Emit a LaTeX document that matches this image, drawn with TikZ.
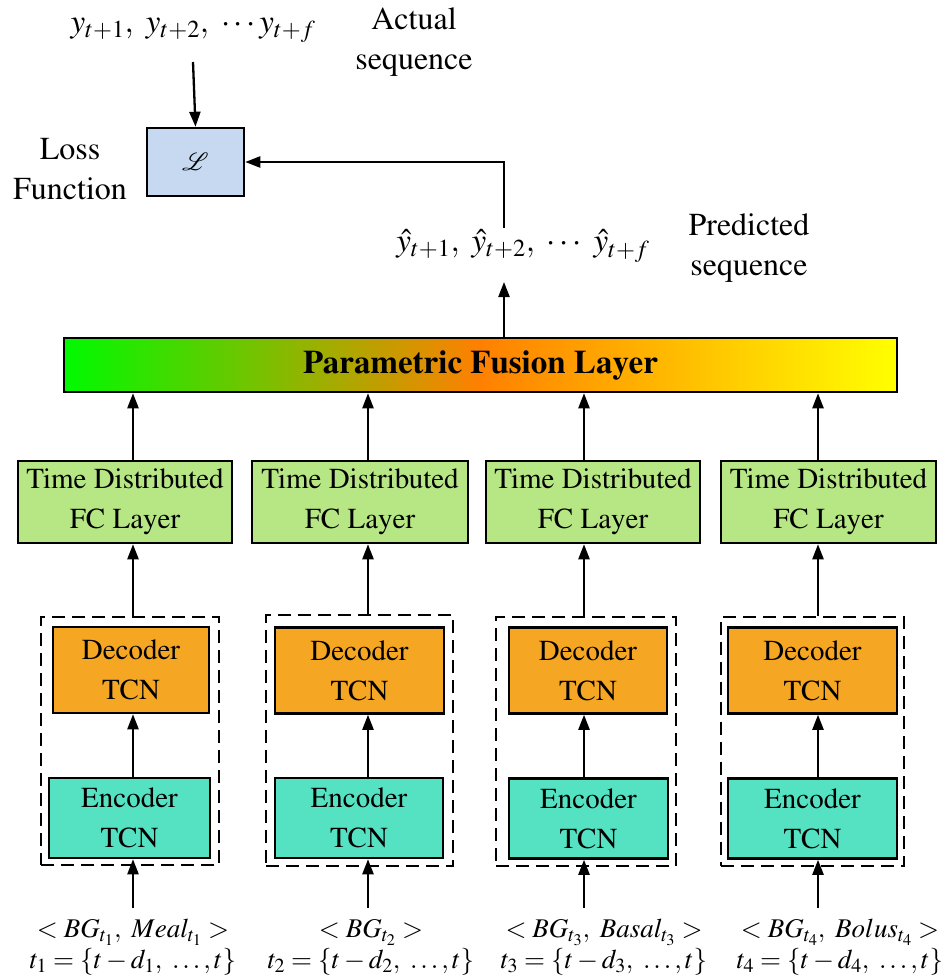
\documentclass[tikz,border=0pt]{standalone}
\usepackage[T1]{fontenc}
\usepackage{mathptmx}
\usepackage{mathrsfs}
\usetikzlibrary{arrows.meta}
\definecolor{fcgreen}{RGB}{183,230,132}
\definecolor{decorange}{RGB}{245,166,35}
\definecolor{encturq}{RGB}{84,226,194}
\definecolor{lossblue}{RGB}{198,217,240}
\definecolor{fuseg}{RGB}{0,250,0}
\definecolor{fuseo}{RGB}{255,128,0}
\definecolor{fusey}{RGB}{255,255,0}
\begin{document}
\begin{tikzpicture}[x=1pt,y=-1pt,
  box/.style={draw=black, line width=2.5pt, align=center, inner sep=0pt, font=\fontsize{29}{40}\selectfont},
  fcbox/.style={box, fill=fcgreen, minimum height=82pt},
  decbox/.style={box, fill=decorange, minimum height=86pt},
  encbox/.style={box, fill=encturq, minimum height=80pt},
  grpbox/.style={draw=black, line width=2.3pt, dash pattern=on 13pt off 7pt, inner sep=0pt},
  lossbox/.style={box, fill=lossblue, minimum width=97pt, minimum height=68pt},
  fusebox/.style={draw=black, line width=2.5pt, inner sep=0pt, left color=fuseg, right color=fusey, middle color=fuseo,
     minimum width=833pt, minimum height=54pt, font=\fontsize{33}{40}\selectfont\bfseries},
  lbl/.style={align=center, inner sep=0pt, font=\fontsize{32}{40}\selectfont},
  seq/.style={inner sep=0pt, font=\fontsize{33}{38}\selectfont},
  inlbl/.style={align=center, inner sep=0pt, anchor=south, font=\fontsize{27}{31}\selectfont},
  arr/.style={line width=2.3pt, -{Triangle[length=15pt,width=11pt]}}
]
\useasboundingbox (0,0) rectangle (947,977);

% columns
\coordinate (c1) at (133,0);
\coordinate (c2) at (368,0);
\coordinate (c3) at (584,0);
\coordinate (c4) at (818,0);

% top
\node[seq] (ytrue) at (193,30) {$y_{t+1},\ y_{t+2},\ \cdots y_{t+f}$};
\node[lbl] (actual) at (414,42) {Actual\\sequence};
\node[lossbox] (loss) at (195.5,162) {$\mathscr{L}$};
\node[lbl] (lossl) at (70,169) {Loss\\Function};
\coordinate (ytrueb) at (193,62);
\draw[arr] (ytrueb) -- (loss.north);

\node[seq] (pred) at (523,246) {$\hat{y}_{t+1},\ \hat{y}_{t+2},\ \cdots\ \hat{y}_{t+f}$};
\node[lbl] (predl) at (749,248) {Predicted\\sequence};
\coordinate (ptop) at (504,228);
\coordinate (pbot) at (504,282);

% fusion
\node[fusebox] (fus) at (480.5,365) {Parametric Fusion Layer};
\draw[arr] (fus.north -| ptop) -- (pbot);
\draw[arr] (ptop) |- (loss.east);

% FC layers
\node[fcbox, minimum width=214pt] (fc1) at (125,502) {Time Distributed\\FC Layer};
\node[fcbox, minimum width=216pt] (fc2) at (360,502) {Time Distributed\\FC Layer};
\node[fcbox, minimum width=214pt] (fc3) at (593,502) {Time Distributed\\FC Layer};
\node[fcbox, minimum width=215pt] (fc4) at (828.5,502) {Time Distributed\\FC Layer};

% groups
\node[grpbox, minimum width=178pt, minimum height=248pt] (g1) at (130,741) {};
\node[grpbox, minimum width=187pt, minimum height=251pt] (g2) at (359.5,740.5) {};
\node[grpbox, minimum width=180pt, minimum height=249pt] (g3) at (586,741.5) {};
\node[grpbox, minimum width=183pt, minimum height=249pt] (g4) at (812.5,741.5) {};

% decoders
\node[decbox, minimum width=156pt] (d1) at (131,670) {Decoder\\TCN};
\node[decbox, minimum width=169pt] (d2) at (359.5,670.5) {Decoder\\TCN};
\node[decbox, minimum width=158pt] (d3) at (588,670.5) {Decoder\\TCN};
\node[decbox, minimum width=169pt] (d4) at (812.5,670.5) {Decoder\\TCN};

% encoders
\node[encbox, minimum width=161pt] (e1) at (129.5,818) {Encoder\\TCN};
\node[encbox, minimum width=168pt] (e2) at (359,818) {Encoder\\TCN};
\node[encbox, minimum width=159pt] (e3) at (588.5,818.5) {Encoder\\TCN};
\node[encbox, minimum width=169pt] (e4) at (812.5,818.5) {Encoder\\TCN};

% inputs
\node[inlbl] (in1) at (133,975) {$<BG_{t_1},\ Meal_{t_1}>$\\$t_1=\{t-d_1,\ \ldots,t\}$};
\node[inlbl] (in2) at (371,975) {$<BG_{t_2}>$\\$t_2=\{t-d_2,\ \ldots,t\}$};
\node[inlbl] (in3) at (604,975) {$<BG_{t_3},\ Basal_{t_3}>$\\$t_3=\{t-d_3,\ \ldots,t\}$};
\node[inlbl] (in4) at (840,975) {$<BG_{t_4},\ Bolus_{t_4}>$\\$t_4=\{t-d_4,\ \ldots,t\}$};
\coordinate (i1) at (133,908);
\coordinate (i2) at (368,908);
\coordinate (i3) at (584,908);
\coordinate (i4) at (818,908);

\foreach \k in {1,2,3,4}{
  \draw[arr] (i\k) -- (c\k |- e\k.south);
  \draw[arr] (c\k |- e\k.north) -- (c\k |- d\k.south);
  \draw[arr] (c\k |- g\k.north) -- (c\k |- fc\k.south);
  \draw[arr] (c\k |- fc\k.north) -- (c\k |- fus.south);
}
\end{tikzpicture}
\end{document}
